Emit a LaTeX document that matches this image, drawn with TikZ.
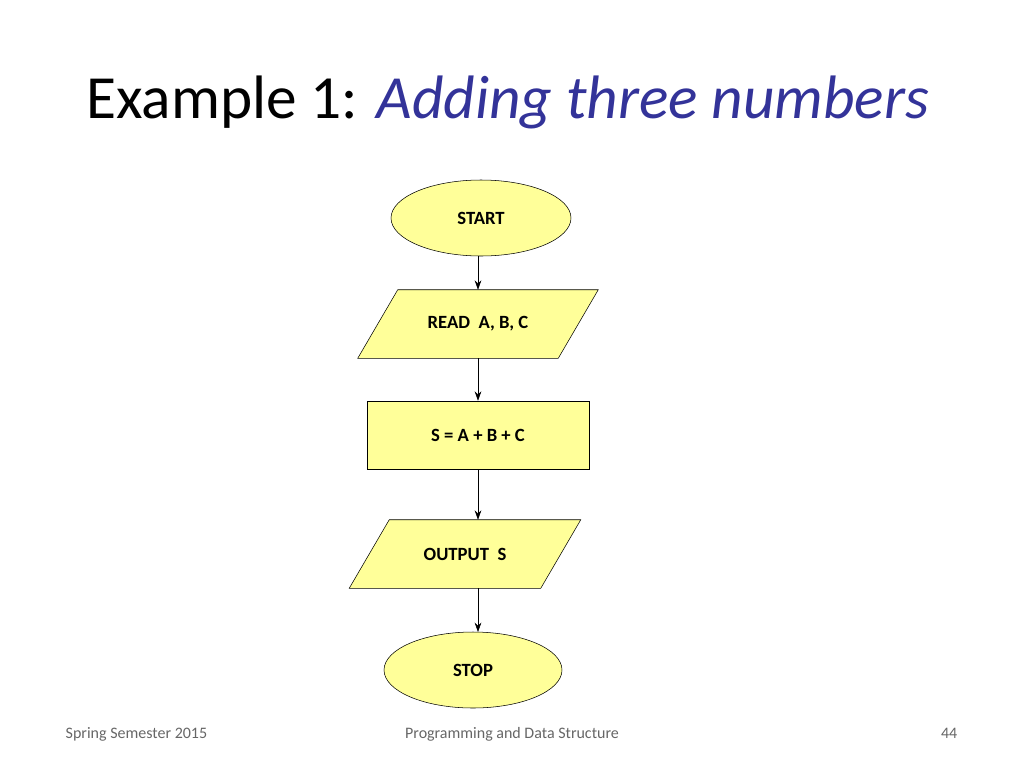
\documentclass[tikz,border=0pt]{standalone}
\usepackage{fontspec}
\setmainfont{Carlito}
\usetikzlibrary{shapes.geometric,arrows.meta}
\definecolor{fy}{RGB}{255,255,153}
\definecolor{tb}{RGB}{51,51,153}
\begin{document}
\begin{tikzpicture}[x=0.75pt,y=-0.75pt,
  term/.style={ellipse,draw,fill=fy,minimum width=180*0.75pt,minimum height=76*0.75pt,font=\fontsize{14}{16}\selectfont\bfseries},
  io/.style={minimum width=200*0.75pt,minimum height=68*0.75pt,font=\fontsize{14}{16}\selectfont\bfseries,inner sep=0},
  proc/.style={rectangle,draw,fill=fy,minimum width=222*0.75pt,minimum height=68*0.75pt,font=\fontsize{14}{16}\selectfont\bfseries},
  arr/.style={-{Stealth[length=7pt,width=5pt]},thin},
  para/.style={draw,fill=fy}]
\useasboundingbox (0,0) rectangle (1024,768);
\node[anchor=base west,inner sep=0,font=\fontsize{46}{50}\selectfont] (title) at (86,118) {Example 1: \textcolor{tb}{\itshape Adding three numbers}};
\node[term] (start) at (481,218) {START};
\node[io] (read) at (478,324) {};
\fill[fy,draw=black] ([xshift=20*0.75pt]read.north west) -- ([xshift=20*0.75pt]read.north east) -- ([xshift=-20*0.75pt]read.south east) -- ([xshift=-20*0.75pt]read.south west) -- cycle;
\node[io] at (read) {READ~ A, B, C};
\node[proc] (sum) at (478,435) {S = A + B + C};
\node[io,minimum width=191*0.75pt] (out) at (465,554) {};
\fill[fy,draw=black] ([xshift=20*0.75pt]out.north west) -- ([xshift=20*0.75pt]out.north east) -- ([xshift=-20*0.75pt]out.south east) -- ([xshift=-20*0.75pt]out.south west) -- cycle;
\node[io] at (out) {OUTPUT~ S};
\node[term,minimum width=178*0.75pt] (stop) at (473,670) {STOP};
\coordinate (a1) at (478,256);
\draw[arr] (a1) -- (read.north -| a1);
\draw[arr] (read.south) -- (sum.north);
\draw[arr] (sum.south) -- (sum.south |- out.north);
\coordinate (a4) at (478,588);
\draw[arr] (a4) -- (478,632);
\node[anchor=base west,font=\fontsize{12}{14}\selectfont,text=black!60] (f1) at (61,738) {Spring Semester 2015};
\node[anchor=base,font=\fontsize{12}{14}\selectfont,text=black!60] (f2) at (512,738) {Programming and Data Structure};
\node[anchor=base east,font=\fontsize{12}{14}\selectfont,text=black!60] (f3) at (962,738) {44};
\end{tikzpicture}
\end{document}
